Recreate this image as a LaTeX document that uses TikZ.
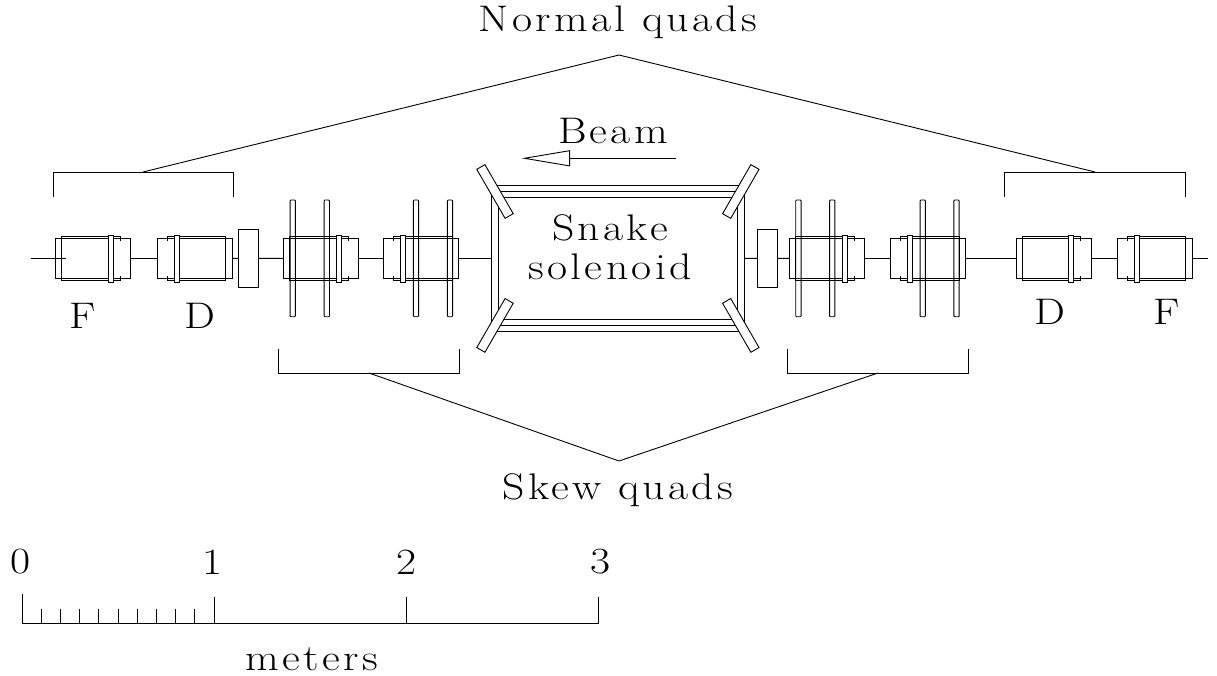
\documentclass[tikz,border=0pt]{standalone}
\usepackage{fontspec}
\setmainfont{Latin Modern Roman}[LetterSpace=9,FakeStretch=1.18]
\usetikzlibrary{arrows.meta}
\tikzset{
  lbl/.style = {inner sep=0, font=\fontsize{37}{37}\selectfont},
  plate/.style = {draw, rectangle, rounded corners=0.8pt, inner sep=0, outer sep=0,
    minimum width=5.3pt, minimum height=116.7pt},
  gapbox/.style = {draw, rectangle, inner sep=0, outer sep=0,
    minimum width=20pt, minimum height=58.7pt},
  wedge/.style = {draw, fill=white, rectangle, inner sep=0, outer sep=0,
    minimum width=56.6pt, minimum height=9.4pt},
  quadmag/.pic = {
    \node[draw, rectangle, inner sep=0, outer sep=0,
      minimum width=75pt, minimum height=39.3pt] (body) at (0,0) {};
    \draw (27.4,-17) -- (27.4,-21.8) -- (-31.4,-21.8) -- (-31.4,21.8) -- (27.4,21.8) -- (27.4,17);
    \draw[fill=white] (15.4,-23.5) rectangle (20.4,23.5);
  }
}
\begin{document}
\begin{tikzpicture}[x=1pt, y=-1pt, line width=0.9pt]
\useasboundingbox (0,0) rectangle (1217,676);
% magnets
\pic (fleft-) at (93.3,258.5) {quadmag};
\pic[xscale=-1] (dleft-) at (194.5,258.5) {quadmag};
\pic (skewa-) at (321.3,258.5) {quadmag};
\pic[xscale=-1] (skewb-) at (420.8,258.5) {quadmag};
\pic (skewc-) at (826.8,258.5) {quadmag};
\pic[xscale=-1] (skewd-) at (928,258.5) {quadmag};
\pic (dright-) at (1053.5,258.5) {quadmag};
\pic[xscale=-1] (fright-) at (1154.5,258.5) {quadmag};
\begin{scope}[every node/.style = {plate}]
\node (platea) at (292.7,258.4) {};
\node (plateb) at (326.8,258.4) {};
\node (platec) at (416,258.4) {};
\node (plated) at (450,258.4) {};
\node (platee) at (798.4,258.4) {};
\node (platef) at (832.2,258.4) {};
\node (plateg) at (922.7,258.4) {};
\node (plateh) at (956.5,258.4) {};
\end{scope}
\node[gapbox] (boxl) at (248.5,258.4) {};
\node[gapbox] (boxr) at (767.7,258.4) {};
% solenoid
\node[draw, rectangle, inner sep=0, outer sep=0, minimum width=253.4pt, minimum height=146.4pt] (solenoid) at (618,258.5) {};
\node[draw, rectangle, inner sep=0, outer sep=0, minimum width=238.6pt, minimum height=121.6pt] (solinner) at (618,258.5) {};
\draw ([yshift=-6.2pt]solenoid.north west) -- ([yshift=-6.2pt]solenoid.north east);
\draw ([yshift=6.2pt]solenoid.south west) -- ([yshift=6.2pt]solenoid.south east);
\node[wedge, rotate=-60] (wedgea) at (495,191.5) {};
\node[wedge, rotate=60] (wedgeb) at (495,325.4) {};
\node[wedge, rotate=60] (wedgec) at (740.8,191.5) {};
\node[wedge, rotate=-60] (wedged) at (740.8,325.4) {};
% beam line
\coordinate (linein) at (30.5,258.5);
\coordinate (linefirst) at (65.7,258.5);
\coordinate (lineout) at (1208,258.5);
\draw (linein) -- (linefirst);
\draw (fleft-body) -- (dleft-body);
\draw (dleft-body) -- (boxl);
\draw (boxl) -- (skewa-body);
\draw (skewa-body) -- (skewb-body);
\draw (skewb-body) -- (solenoid);
\draw (solenoid) -- (boxr);
\draw (boxr) -- (skewc-body);
\draw (skewc-body) -- (skewd-body);
\draw (skewd-body) -- (dright-body);
\draw (dright-body) -- (fright-body);
\draw (fright-body) -- (lineout);
% beam arrow
\coordinate (beamtail) at (675.7,158.3);
\coordinate (beamtip) at (521.7,158.3);
\draw[-{Triangle[open, length=48.3pt, width=16pt]}] (beamtail) -- (beamtip);
% brackets
\coordinate (normalpeak) at (619,55);
\coordinate (normalleft) at (143,172);
\coordinate (normalright) at (1095,172);
\coordinate (skewpeak) at (619,461);
\coordinate (skewleft) at (369,373);
\coordinate (skewright) at (878,373);
\draw (53,196.7) -- (53,172) -- (233.3,172) -- (233.3,196.7);
\draw (1004.7,196.7) -- (1004.7,172) -- (1185,172) -- (1185,196.7);
\draw (278.7,348.5) -- (278.7,373) -- (459,373) -- (459,348.5);
\draw (787.7,348.5) -- (787.7,373) -- (968,373) -- (968,348.5);
\draw (normalleft) -- (normalpeak) -- (normalright);
\draw (skewleft) -- (skewpeak) -- (skewright);
% scale
\draw (22,594) -- (22,623) -- (598,623) -- (598,597.3);
\draw (214,623) -- (214,597.3);
\draw (406,623) -- (406,597.3);
\draw (41.2,623) -- (41.2,609);
\draw (60.4,623) -- (60.4,609);
\draw (79.6,623) -- (79.6,609);
\draw (98.8,623) -- (98.8,609);
\draw (118,623) -- (118,609);
\draw (137.2,623) -- (137.2,609);
\draw (156.4,623) -- (156.4,609);
\draw (175.6,623) -- (175.6,609);
\draw (194.8,623) -- (194.8,609);
% labels
\begin{scope}[every node/.style = {lbl}]
\node (normal) at (618,22) {Normal quads};
\node (skew) at (618,490) {Skew quads};
\node (beam) at (613,131) {Beam};
\node (snake) at (610,228) {Snake};
\node (sol) at (610,267) {solenoid};
\node (fa) at (83,316) {F};
\node (da) at (200,316) {D};
\node (db) at (1050,312) {D};
\node (fb) at (1167,312) {F};
\node (zero) at (20.5,562) {0};
\node (one) at (213,562) {1};
\node (two) at (406.5,562) {2};
\node (three) at (600.5,562) {3};
\node (meters) at (312,659) {meters};
\end{scope}
\end{tikzpicture}
\end{document}
